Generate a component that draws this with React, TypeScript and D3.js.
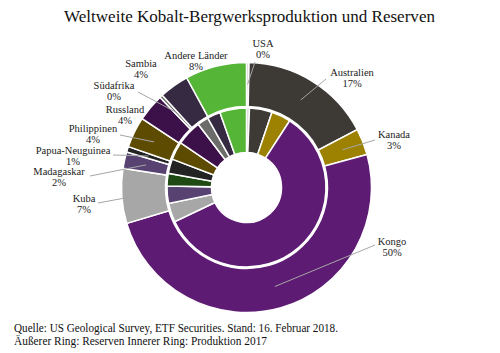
import React, { useEffect, useRef } from "react";
import * as d3 from "d3";

// Länder in der Reihenfolge der Ringe (im Uhrzeigersinn ab 12 Uhr)
const countries = [
  "USA",
  "Australien",
  "Kanada",
  "Kongo",
  "Kuba",
  "Madagaskar",
  "Neukaledonien",
  "Papua-Neuguinea",
  "Philippinen",
  "Russland",
  "Südafrika",
  "Sambia",
  "Andere Länder",
];

// Reserven (Tsd. t) - äußerer Ring
const reserves = [23, 1200, 240, 3500, 500, 150, 0, 51, 280, 250, 29, 270, 560];

// Produktion 2017 (t) - innerer Ring
const production = [650, 5000, 4300, 64000, 4200, 3800, 2800, 3200, 4000, 5600, 2500, 2900, 5900];

const colors = [
  "#c8c8c8",
  "#3d3935",
  "#9c8200",
  "#5e1b73",
  "#a6a7a6",
  "#574272",
  "#1f4a14",
  "#232323",
  "#5e4b02",
  "#3c1049",
  "#6c6d6b",
  "#352a41",
  "#55b536",
];

// Beschriftungen: Position der ersten Zeile (Mitte, Grundlinie) und Ende der Führungslinie
const labelLayout: Record<string, { x: number; y: number; end?: [number, number] }> = {
  USA: { x: 263, y: 47, end: [255, 62] },
  Australien: { x: 352, y: 76, end: [326, 79] },
  Kanada: { x: 394, y: 138, end: [375, 140] },
  Kongo: { x: 392, y: 245, end: [375, 245] },
  Kuba: { x: 84, y: 202, end: [98, 203] },
  Madagaskar: { x: 59, y: 175, end: [90, 176] },
  "Papua-Neuguinea": { x: 73, y: 154, end: [113, 155] },
  Philippinen: { x: 93, y: 132, end: [120, 135] },
  Russland: { x: 125, y: 113 },
  "Südafrika": { x: 114, y: 89, end: [138, 92] },
  Sambia: { x: 141, y: 67 },
  "Andere Länder": { x: 196, y: 59 },
};

const W = 500;
const H = 353;
const FONT = "'Liberation Serif', 'Times New Roman', serif";

export default function App() {
  const svgRef = useRef<SVGSVGElement | null>(null);

  useEffect(() => {
    if (!svgRef.current) return;
    document.body.style.margin = "0";

    const svg = d3.select(svgRef.current);
    svg.selectAll("*").remove();

    const cx = 246.5;
    const cy = 187.5;

    const rows = countries.map((c, i) => ({
      name: c,
      res: reserves[i],
      prod: production[i],
      color: colors[i],
    }));
    type Row = (typeof rows)[number];

    const g = svg.append("g").attr("transform", `translate(${cx},${cy})`);

    const pieRes = d3.pie<Row>().sort(null).value((d) => d.res);
    const piePro = d3.pie<Row>().sort(null).value((d) => d.prod);

    const outerArc = d3.arc<d3.PieArcDatum<Row>>().innerRadius(81).outerRadius(125);
    const innerArc = d3.arc<d3.PieArcDatum<Row>>().innerRadius(35).outerRadius(79.5);
    const labelArc = d3.arc<d3.PieArcDatum<Row>>().innerRadius(103).outerRadius(103);

    const outerData = pieRes(rows);

    g.append("g")
      .selectAll("path")
      .data(outerData.filter((d) => d.value > 0))
      .join("path")
      .attr("d", (d) => outerArc(d)!)
      .attr("fill", (d) => d.data.color)
      .attr("stroke", "#fff")
      .attr("stroke-width", 1.5);

    g.append("g")
      .selectAll("path")
      .data(piePro(rows))
      .join("path")
      .attr("d", (d) => innerArc(d)!)
      .attr("fill", (d) => d.data.color)
      .attr("stroke", "#fff")
      .attr("stroke-width", 1.5);

    const total = d3.sum(reserves);
    const pct = (v: number) => `${Math.round((v / total) * 100)}%`;

    // Führungslinien
    const labeled = outerData.filter((d) => labelLayout[d.data.name]);
    svg
      .append("g")
      .selectAll("line")
      .data(labeled.filter((d) => labelLayout[d.data.name].end))
      .join("line")
      .attr("x1", (d) => cx + labelArc.centroid(d)[0])
      .attr("y1", (d) => cy + labelArc.centroid(d)[1])
      .attr("x2", (d) => labelLayout[d.data.name].end![0])
      .attr("y2", (d) => labelLayout[d.data.name].end![1])
      .attr("stroke", "#a6a6a6")
      .attr("stroke-width", 1);

    const labels = svg
      .append("g")
      .selectAll("text")
      .data(labeled)
      .join("text")
      .attr("font-family", FONT)
      .attr("font-size", 10.5)
      .attr("fill", "#222")
      .attr("text-anchor", "middle")
      .attr("x", (d) => labelLayout[d.data.name].x)
      .attr("y", (d) => labelLayout[d.data.name].y);

    labels.append("tspan").text((d) => d.data.name);
    labels
      .append("tspan")
      .attr("x", (d) => labelLayout[d.data.name].x)
      .attr("dy", 10.5)
      .text((d) => pct(d.data.res));

    // Titel
    svg
      .append("text")
      .attr("x", 249.5)
      .attr("y", 22)
      .attr("text-anchor", "middle")
      .attr("font-family", FONT)
      .attr("font-size", 16.5)
      .attr("fill", "#111")
      .attr("textLength", 371)
      .attr("lengthAdjust", "spacingAndGlyphs")
      .text("Weltweite Kobalt-Bergwerksproduktion und Reserven");

    // Quelle
    const foot = svg.append("g");
    foot
      .append("text")
      .attr("x", 14)
      .attr("y", 332)
      .attr("font-family", FONT)
      .attr("font-size", 12)
      .attr("fill", "#111")
      .attr("textLength", 324)
      .attr("lengthAdjust", "spacingAndGlyphs")
      .text("Quelle: US Geological Survey, ETF Securities. Stand: 16. Februar 2018.");
    foot
      .append("text")
      .attr("x", 14)
      .attr("y", 345)
      .attr("font-family", FONT)
      .attr("font-size", 12)
      .attr("fill", "#111")
      .attr("textLength", 253)
      .attr("lengthAdjust", "spacingAndGlyphs")
      .text("Äußerer Ring: Reserven Innerer Ring: Produktion 2017");
  }, []);

  return (
    <div style={{ width: W, height: H, background: "#fff" }}>
      <svg ref={svgRef} width={W} height={H} style={{ display: "block" }} />
    </div>
  );
}
